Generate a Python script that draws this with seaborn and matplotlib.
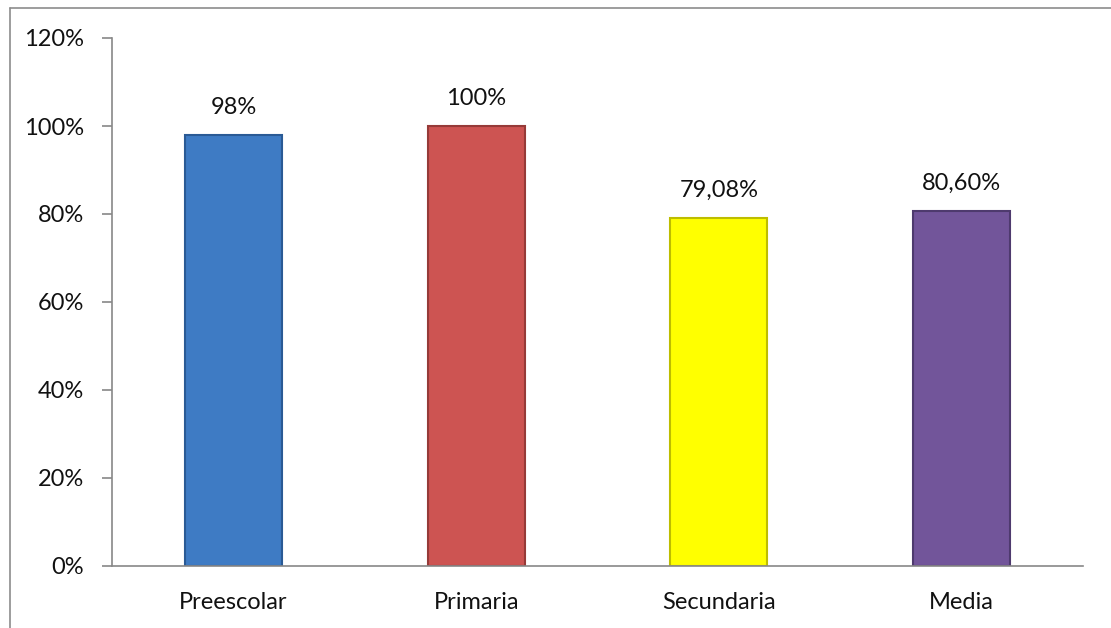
import pandas as pd
import numpy as np
import matplotlib
matplotlib.use('Agg')
import matplotlib.pyplot as plt
import seaborn as sns
from matplotlib.lines import Line2D
from matplotlib.ticker import FuncFormatter

# Data
niveles = ['Preescolar', 'Primaria', 'Secundaria', 'Media']
cobertura = [0.98, 1.00, 0.7908, 0.8060]
etiquetas = ['98%', '100%', '79,08%', '80,60%']
colores = ['#3E7BC4', '#CD5452', '#FFFF00', '#72559A']
bordes = ['#2A5A95', '#963A38', '#BDBD00', '#4E3A6E']

df = pd.DataFrame({'nivel': niveles, 'valor': cobertura})

sns.set_style('white')
plt.rcParams['font.family'] = ['Lato', 'DejaVu Sans']

fig = plt.figure(figsize=(11.11, 6.28), dpi=100)
ax = fig.add_axes([112/1111, 1 - 566/628, (1083-112)/1111, (566-38)/628])

sns.barplot(data=df, x='nivel', y='valor', hue='nivel', palette=colores,
            legend=False, width=0.40, ax=ax, saturation=1)

for bar, ec in zip(ax.patches, bordes):
    bar.set_edgecolor(ec)
    bar.set_linewidth(1.5)

for bar, txt in zip(ax.patches, etiquetas):
    ax.annotate(txt, (bar.get_x() + bar.get_width()/2, bar.get_height()),
                xytext=(0, 20), textcoords='offset points',
                ha='center', va='center', fontsize=17, color='#111111')

ax.set_ylim(0, 1.2)
ax.set_yticks(np.arange(0, 1.21, 0.2))
ax.yaxis.set_major_formatter(FuncFormatter(lambda v, p: f'{v*100:.0f}%'))
ax.set_xlim(-0.5, 3.5)
ax.set_xlabel('')
ax.set_ylabel('')

for s in ['top', 'right']:
    ax.spines[s].set_visible(False)
for s in ['left', 'bottom']:
    ax.spines[s].set_color('#888888')
    ax.spines[s].set_linewidth(1.2)

ax.tick_params(axis='y', left=True, length=7, width=1.2, color='#888888',
               labelsize=17, labelcolor='#111111', pad=13)
ax.tick_params(axis='x', bottom=False, labelsize=17, labelcolor='#111111', pad=15)

# chart border (top and left only visible)
ytop = 1 - 8/628
xl = 10/1111
fig.lines.append(Line2D([xl, 1], [ytop, ytop], transform=fig.transFigure,
                        color='#8C8C8C', linewidth=1.2))
fig.lines.append(Line2D([xl, xl], [0, ytop], transform=fig.transFigure,
                        color='#8C8C8C', linewidth=1.2))

fig.savefig('out.png', dpi=100)
